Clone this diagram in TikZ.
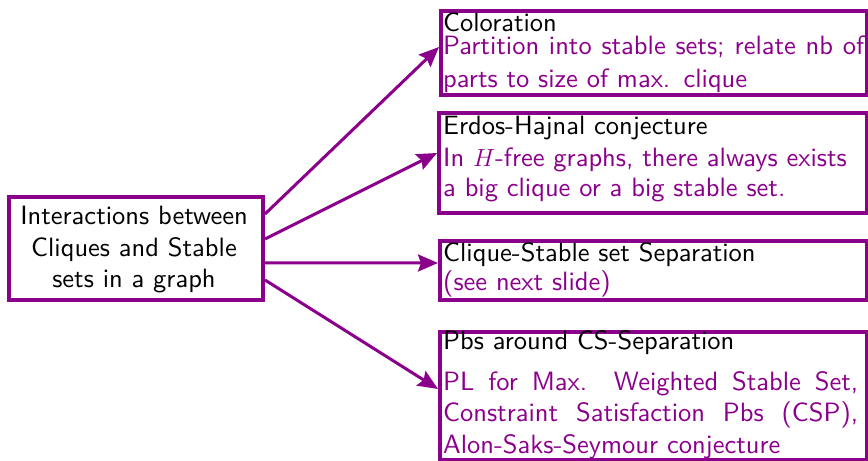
\documentclass[tikz,border=0pt]{standalone}
% use the 10pt design of Latin Modern Sans at every size
\DeclareFontFamily{TU}{lmss}{}
\DeclareFontShape{TU}{lmss}{m}{n}{<-> \UnicodeFontFile{lmsans10-regular}{\UnicodeFontTeXLigatures}}{}
\usetikzlibrary{arrows.meta,calc}
\definecolor{plum}{RGB}{139,0,139}
\newcommand{\bodyfont}{\sffamily\fontsize{26.5bp}{31.5bp}\selectfont}
% a line set flush to both margins of a box
\newcommand{\fullline}[2][421bp]{\makebox[#1][s]{\spaceskip=0pt\xspaceskip=0pt\relax #2}}
\begin{document}
\begin{tikzpicture}[x=1bp,y=-1bp,
  frame/.style={draw=plum, line width=4bp, inner sep=0pt, anchor=north west},
  title/.style={anchor=base west, inner sep=0pt, text=black, font=\bodyfont, align=left},
  body/.style={anchor=base west, inner sep=0pt, text=plum, font=\bodyfont, text width=421bp, align=left},
  link/.style={draw=plum, line width=3bp, -{Stealth[length=20bp,width=17bp,inset=3bp]}}]
\useasboundingbox (0,0) rectangle (868,461);

% central box
\node[frame, minimum width=254bp, minimum height=103bp] (lb) at (7,195) {};
\node[anchor=base, inner sep=0pt, font=\bodyfont, text width=250bp, align=center] (lbt) at (134,225)
  {Interactions between\\Cliques and Stable\\sets in a graph};

% right-hand boxes
\node[frame, minimum width=426bp, minimum height=84bp] (b1) at (439,9) {};
\node[frame, minimum width=428bp, minimum height=100bp] (b2) at (437,111) {};
\node[frame, minimum width=427bp, minimum height=59bp] (b3) at (438,239) {};
\node[frame, minimum width=427bp, minimum height=128bp] (b4) at (438,330) {};

% box contents
\node[title] (t1) at (443,32) {Coloration};
\node[body] (d1) at (443,55) {\fullline{Partition into stable sets; relate nb of}\\[1.5bp]parts to size of max. clique};

\node[title] (t2) at (443,135) {Erdos-Hajnal conjecture};
\node[body] (d2) at (443,167) {In $H$-free graphs, there always exists\\[-1.5bp]a big clique or a big stable set.};

\node[title] (t3) at (443,262) {Clique-Stable set Separation};
\node[body] (d3) at (443,291) {(see next slide)};

\node[title] (t4) at (443,350) {Pbs around CS-Separation};
\node[body] (d4) at (443,390)
  {\fullline[415bp]{PL for Max. Weighted Stable Set,}\\
   \fullline[415bp]{Constraint Satisfaction Pbs (CSP),}\\
   Alon-Saks-Seymour conjecture};

% connectors
\draw[link] ($(lb.east)+(0,-34.5)$) -- ($(b1.west)+(0,-6)$);
\draw[link] ($(lb.east)+(0,-9.5)$) -- ($(b2.west)+(0,-10)$);
\draw[link] ($(lb.east)+(0,14.5)$) -- ($(b3.west)+(0,-7.5)$);
\draw[link] ($(lb.east)+(0,31.5)$) -- ($(b4.west)+(0,-7)$);
\end{tikzpicture}
\end{document}
